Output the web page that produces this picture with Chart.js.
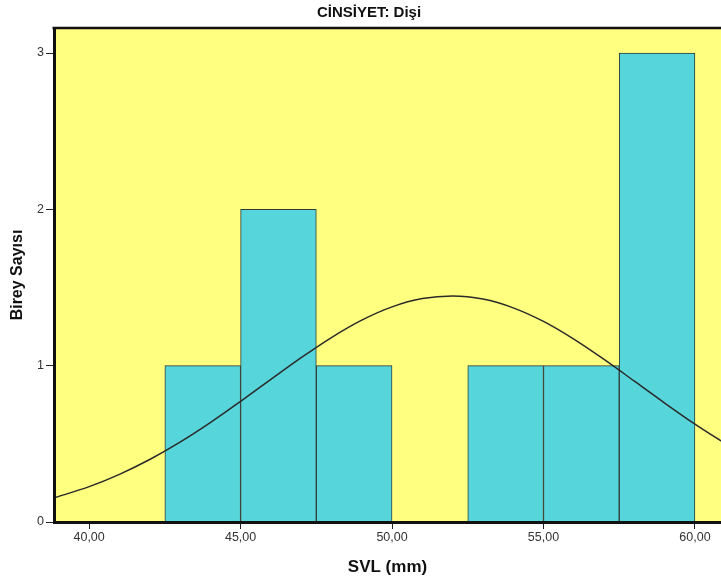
<!DOCTYPE html>
<html>
<head>
<meta charset="utf-8">
<script src="https://cdn.jsdelivr.net/npm/chart.js@4/dist/chart.umd.min.js"></script>
<style>
html, body { margin: 0; padding: 0; background: #ffffff; }
#wrap { width: 721px; height: 585px; }
</style>
</head>
<body>
<div id="wrap"><canvas id="c" width="721" height="585"></canvas></div>
<script>
// ---- data ----
const chartTitle = 'CİNSİYET: Dişi';
const xTitle = 'SVL (mm)';
const yTitle = 'Birey Sayısı';

const binCenters = [43.75, 46.25, 48.75, 51.25, 53.75, 56.25, 58.75];
const counts     = [1, 2, 1, 0, 1, 1, 3];

// normal curve as drawn
const curveX = [38.84, 39, 40, 41, 42, 43, 44, 45, 46, 47, 48, 49, 50, 51, 52, 53, 54, 55, 56, 57, 58, 59, 60, 61];
const curveY = [0.155, 0.164, 0.226, 0.305, 0.400, 0.511, 0.636, 0.772, 0.912, 1.051, 1.180, 1.291, 1.376, 1.429, 1.446, 1.426, 1.370, 1.283, 1.170, 1.040, 0.901, 0.761, 0.626, 0.501];

const xTicks = [40, 45, 50, 55, 60];
const yTicks = [0, 1, 2, 3];
const xRange = [38.84, 60.86];
const yRange = [0, 3.16];

const fmtX = v => v.toFixed(2).replace('.', ',');

const framePlugin = {
  id: 'frame',
  beforeDraw(chart) {
    const { ctx, chartArea: a } = chart;
    ctx.save();
    ctx.fillStyle = '#FFFF80';
    ctx.fillRect(a.left, a.top, a.right - a.left, a.bottom - a.top);
    ctx.restore();
  },
  afterDraw(chart) {
    const { ctx, chartArea: a } = chart;
    ctx.save();
    ctx.strokeStyle = '#111111';
    ctx.lineWidth = 2.5;
    ctx.beginPath();
    ctx.moveTo(a.left - 1.5, a.top);
    ctx.lineTo(a.right, a.top);
    ctx.stroke();
    ctx.fillStyle = '#111111';
    ctx.font = 'bold 15px "Liberation Sans", Arial, sans-serif';
    ctx.textAlign = 'center';
    ctx.textBaseline = 'middle';
    ctx.fillText(chartTitle, 369, 13);
    ctx.restore();
  }
};

new Chart(document.getElementById('c'), {
  type: 'bar',
  data: {
    datasets: [
      {
        type: 'line',
        data: curveX.map((x, i) => ({ x: x, y: curveY[i] })),
        borderColor: '#2a2a2a',
        borderWidth: 1.5,
        pointRadius: 0,
        cubicInterpolationMode: 'monotone',
        fill: false,
        order: 0
      },
      {
        type: 'bar',
        data: binCenters.map((x, i) => ({ x: x, y: counts[i] })),
        backgroundColor: '#56D5DA',
        borderColor: '#2f3a38',
        borderWidth: 1,
        borderSkipped: 'start',
        barPercentage: 1,
        categoryPercentage: 1,
        order: 1
      }
    ]
  },
  options: {
    responsive: false,
    animation: false,
    devicePixelRatio: 1,
    layout: { padding: { top: 28, right: 0, bottom: 0, left: 0 } },
    plugins: { legend: { display: false }, tooltip: { enabled: false }, title: { display: false } },
    scales: {
      x: {
        type: 'linear',
        min: xRange[0],
        max: xRange[1],
        offset: false,
        afterBuildTicks: s => { s.ticks = xTicks.map(v => ({ value: v })); },
        afterFit: s => { s.height = 63; },
        grid: { drawOnChartArea: false, offset: false, tickLength: 7, tickColor: '#222', tickWidth: 1 },
        border: { display: true, color: '#111111', width: 3, z: 1 },
        ticks: {
          callback: v => fmtX(v),
          color: '#333333',
          padding: 1,
          maxRotation: 0,
          font: { family: '"Liberation Sans", Arial, sans-serif', size: 12.5 }
        },
        title: {
          display: true,
          text: xTitle,
          color: '#111111',
          padding: { top: 0, bottom: 7 },
          font: { family: '"Liberation Sans", Arial, sans-serif', size: 17, weight: 'bold' }
        }
      },
      y: {
        type: 'linear',
        min: yRange[0],
        max: yRange[1],
        afterBuildTicks: s => { s.ticks = yTicks.map(v => ({ value: v })); },
        afterFit: s => { s.width = 54; },
        grid: { drawOnChartArea: false, tickLength: 8, tickColor: '#222', tickWidth: 1 },
        border: { display: true, color: '#111111', width: 3, z: 1 },
        ticks: {
          callback: v => String(v),
          color: '#333333',
          padding: 2,
          font: { family: '"Liberation Sans", Arial, sans-serif', size: 12.5 }
        },
        title: {
          display: true,
          text: yTitle,
          color: '#111111',
          padding: { top: 8, bottom: 0 },
          font: { family: '"Liberation Sans", Arial, sans-serif', size: 16, weight: 'bold' }
        }
      }
    }
  },
  plugins: [framePlugin]
});
</script>
</body>
</html>
